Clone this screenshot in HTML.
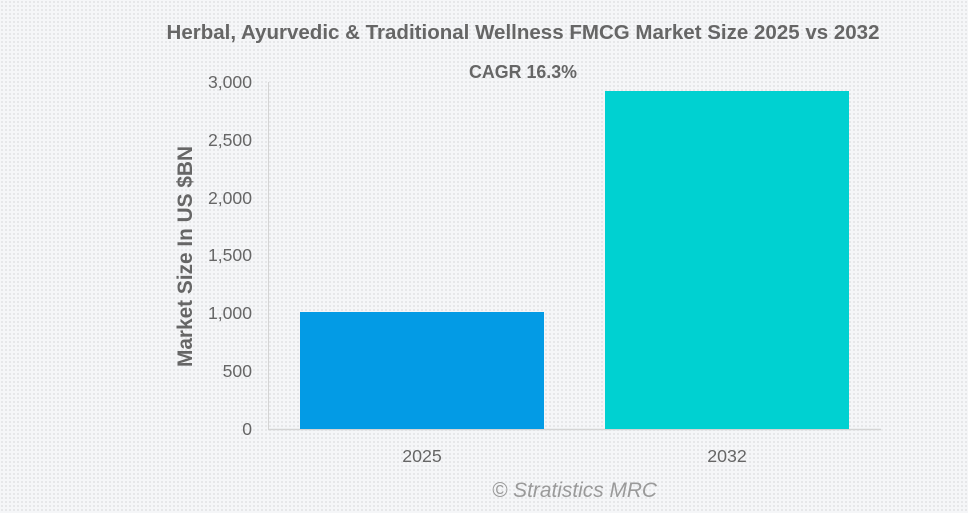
<!DOCTYPE html>
<html>
<head>
<meta charset="utf-8">
<style>
html,body{margin:0;padding:0;}
body{width:968px;height:513px;overflow:hidden;background:#f3f4f6;}
svg{display:block;}
</style>
</head>
<body>
<svg width="968" height="513" viewBox="0 0 968 513" xmlns="http://www.w3.org/2000/svg">
  <defs>
    <pattern id="dots" width="4" height="4" patternUnits="userSpaceOnUse">
      <rect width="4" height="4" fill="#f5f6f8"/>
      <rect x="1" y="1" width="2" height="2" fill="#e6e7e9"/>
    </pattern>
  </defs>
  <rect width="968" height="513" fill="url(#dots)"/>

  <text x="523" y="39" text-anchor="middle" font-family="Liberation Sans, Arial, sans-serif" font-weight="bold" font-size="20.5" fill="#666666" textLength="713" lengthAdjust="spacingAndGlyphs">Herbal, Ayurvedic &amp; Traditional Wellness FMCG Market Size 2025 vs 2032</text>

  <text x="523" y="78" text-anchor="middle" font-family="Liberation Sans, Arial, sans-serif" font-weight="bold" font-size="18" fill="#666666" textLength="108" lengthAdjust="spacingAndGlyphs">CAGR 16.3%</text>

  <!-- axes -->
  <line x1="268.5" y1="82" x2="268.5" y2="430" stroke="#d4d4d4" stroke-width="1"/>
  <line x1="268" y1="429.5" x2="881" y2="429.5" stroke="#d4d4d4" stroke-width="1.5"/>

  <!-- y tick labels -->
  <g font-family="Liberation Sans, Arial, sans-serif" font-size="17.6" fill="#666666" text-anchor="end">
    <text x="252" y="88">3,000</text>
    <text x="252" y="146">2,500</text>
    <text x="252" y="204">2,000</text>
    <text x="252" y="261">1,500</text>
    <text x="252" y="319">1,000</text>
    <text x="252" y="377">500</text>
    <text x="252" y="435">0</text>
  </g>

  <!-- y axis title -->
  <text transform="translate(192,256.5) rotate(-90)" text-anchor="middle" font-family="Liberation Sans, Arial, sans-serif" font-weight="bold" font-size="21" fill="#666666" textLength="221" lengthAdjust="spacingAndGlyphs">Market Size In US $BN</text>

  <!-- bars -->
  <rect x="300" y="312" width="244" height="117" fill="#039be5"/>
  <rect x="605" y="91" width="244" height="338" fill="#00d1d1"/>

  <!-- x labels -->
  <g font-family="Liberation Sans, Arial, sans-serif" font-size="17.8" fill="#666666" text-anchor="middle">
    <text x="422" y="462">2025</text>
    <text x="727" y="462">2032</text>
  </g>

  <text x="574.5" y="497" text-anchor="middle" font-family="Liberation Sans, Arial, sans-serif" font-style="italic" font-size="21" fill="#9a9a9a" textLength="165" lengthAdjust="spacingAndGlyphs">© Stratistics MRC</text>
</svg>
</body>
</html>
